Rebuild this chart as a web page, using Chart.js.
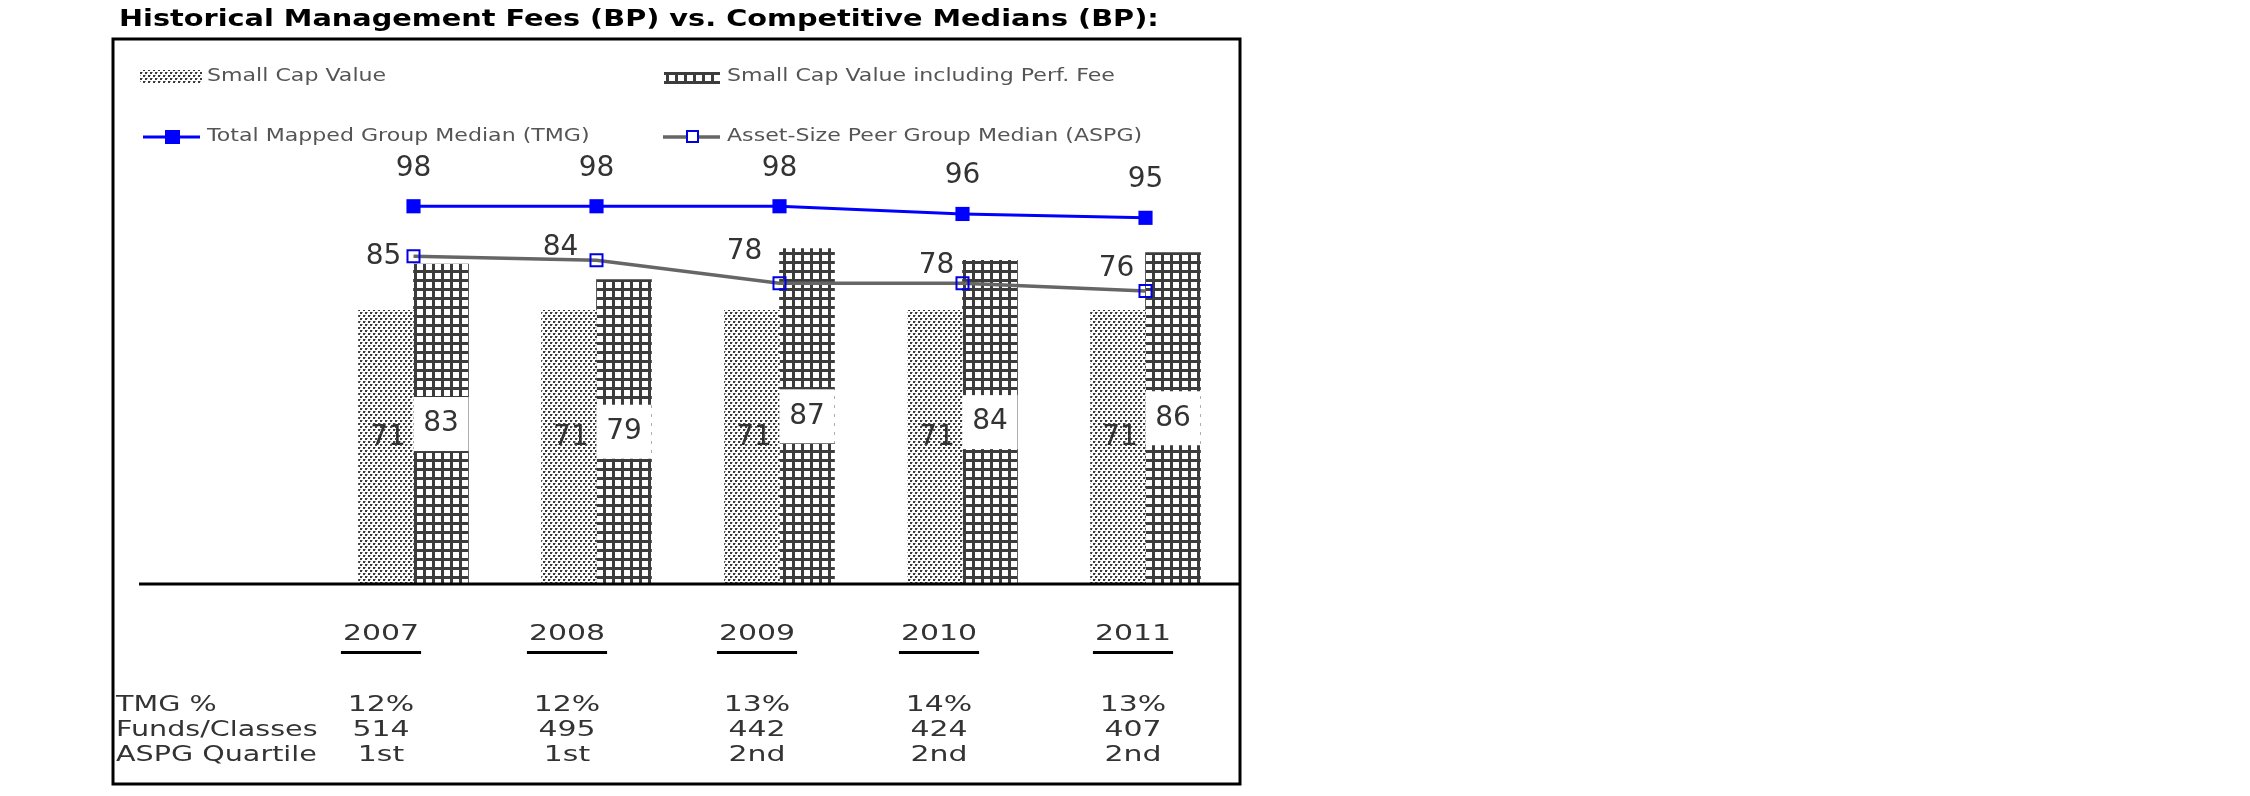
<!DOCTYPE html>
<html>
<head>
<meta charset="utf-8">
<script src="https://cdn.jsdelivr.net/npm/chart.js@4.4.1/dist/chart.umd.min.js"></script>
<style>
  html, body { margin: 0; padding: 0; background: #fff; }
  canvas { display: block; }
</style>
</head>
<body>
<canvas id="feesChart" width="2250" height="796"></canvas>
<script>
const title = "Historical Management Fees (BP) vs. Competitive Medians (BP):";
const years = [2007, 2008, 2009, 2010, 2011];
const smallCapValue = [71, 71, 71, 71, 71];
const smallCapPerfFee = [83, 79, 87, 84, 86];
const tmgMedian = [98, 98, 98, 96, 95];
const aspgMedian = [85, 84, 78, 78, 76];
const rowLabels = ["TMG %", "Funds/Classes", "ASPG Quartile"];
const tmgPct = ["12%", "12%", "13%", "14%", "13%"];
const fundsClasses = ["514", "495", "442", "424", "407"];
const aspgQuartile = ["1st", "1st", "2nd", "2nd", "2nd"];

// layout bits (pixels), not data
const aspgLabelShift = [[-30, 0], [-36, -12], [-35, -32], [-26, -18], [-29, -22]];
const tableCols = [381, 567, 757, 939, 1133];
const box = { left: 113, top: 39, right: 1240, bottom: 784 };
const FONT = '"DejaVu Sans", Verdana, sans-serif';

function makePattern(w, h, paint) {
  const c = document.createElement("canvas");
  c.width = w; c.height = h;
  const g = c.getContext("2d");
  g.fillStyle = "#fff";
  g.fillRect(0, 0, w, h);
  paint(g);
  return document.createElement("canvas").getContext("2d").createPattern(c, "repeat");
}

const dotted = makePattern(5, 6, (g) => {
  g.fillStyle = "#3a3a3a";
  g.fillRect(0, 0, 2, 2);
  g.fillRect(3, 3, 2, 2);
  g.fillStyle = "#a0a0a0";
  g.fillRect(2, 0, 1, 1);
  g.fillRect(0, 3, 1, 1);
});

const grid = makePattern(9, 9, (g) => {
  g.fillStyle = "#3c3c3c";
  g.fillRect(0, 0, 3, 9);
  g.fillRect(0, 0, 9, 3);
});

function say(ctx, str, x, y, size, opts = {}) {
  const sx = opts.sx || 1;
  ctx.save();
  ctx.font = `${opts.bold ? "bold " : ""}${size}px ${FONT}`;
  ctx.fillStyle = opts.color || "#333";
  ctx.textAlign = opts.align || "center";
  ctx.textBaseline = opts.baseline || "middle";
  ctx.translate(x, y);
  ctx.scale(sx, 1);
  ctx.fillText(str, 0, 0);
  const w = ctx.measureText(str).width * sx;
  ctx.restore();
  return w;
}

const labelsPlugin = {
  id: "valueLabels",
  afterDatasetsDraw(chart) {
    const ctx = chart.ctx;
    const [smallMeta, perfMeta, tmgMeta, aspgMeta] = [0, 1, 2, 3].map((i) => chart.getDatasetMeta(i));

    perfMeta.data.forEach((bar, i) => {
      const mid = (bar.y + bar.base) / 2;
      ctx.fillStyle = "#fff";
      ctx.fillRect(bar.x - bar.width / 2, mid - 27, bar.width, 54);
      say(ctx, String(smallCapPerfFee[i]), bar.x, mid, 28, { color: "#333" });
    });

    smallMeta.data.forEach((bar, i) => {
      const mid = (bar.y + bar.base) / 2;
      say(ctx, String(smallCapValue[i]), bar.x + 2, mid - 9, 28, { color: "#333" });
    });

    tmgMeta.data.forEach((pt, i) => {
      say(ctx, String(tmgMedian[i]), pt.x, pt.y - 38, 28, { color: "#333" });
    });

    aspgMeta.data.forEach((pt, i) => {
      const [dx, dy] = aspgLabelShift[i];
      say(ctx, String(aspgMedian[i]), pt.x + dx, pt.y + dy, 28, { color: "#333" });
    });
  }
};

const framePlugin = {
  id: "frame",
  afterDraw(chart) {
    const ctx = chart.ctx;
    const ds = chart.data.datasets;
    const zero = chart.scales.y.getPixelForValue(0);

    // title
    say(ctx, title, 119, 26, 23, { bold: true, color: "#000", align: "left", baseline: "alphabetic", sx: 1.25 });

    // box
    ctx.save();
    ctx.strokeStyle = "#000";
    ctx.lineWidth = 3;
    ctx.strokeRect(box.left, box.top, box.right - box.left, box.bottom - box.top);
    // category axis line
    ctx.beginPath();
    ctx.moveTo(chart.chartArea.left, zero);
    ctx.lineTo(box.right, zero);
    ctx.stroke();
    ctx.restore();

    // legend
    const legendText = { align: "left", color: "#555", sx: 1.3 };
    ctx.fillStyle = ds[0].backgroundColor;
    ctx.fillRect(140, 70, 62, 14);
    say(ctx, ds[0].label, 207, 77, 17, legendText);

    ctx.fillStyle = ds[1].backgroundColor;
    ctx.fillRect(664, 72, 56, 12);
    say(ctx, ds[1].label, 727, 77, 17, legendText);

    ctx.save();
    ctx.strokeStyle = ds[2].borderColor;
    ctx.lineWidth = ds[2].borderWidth;
    ctx.beginPath(); ctx.moveTo(143, 137); ctx.lineTo(200, 137); ctx.stroke();
    ctx.fillStyle = ds[2].pointBackgroundColor;
    ctx.fillRect(165, 130, 15, 14);
    ctx.restore();
    say(ctx, ds[2].label, 207, 137, 17, legendText);

    ctx.save();
    ctx.strokeStyle = ds[3].borderColor;
    ctx.lineWidth = ds[3].borderWidth;
    ctx.beginPath(); ctx.moveTo(663, 137); ctx.lineTo(720, 137); ctx.stroke();
    ctx.fillStyle = "#fff";
    ctx.strokeStyle = ds[3].pointBorderColor;
    ctx.lineWidth = 2;
    ctx.fillRect(687, 131, 11, 11);
    ctx.strokeRect(687, 131, 11, 11);
    ctx.restore();
    say(ctx, ds[3].label, 727, 137, 17, legendText);

    // data table under the chart
    const cell = { color: "#333", sx: 1.36 };
    years.forEach((yr, i) => {
      const w = say(ctx, String(yr), tableCols[i], 634, 22, cell);
      ctx.fillStyle = "#000";
      ctx.fillRect(tableCols[i] - w / 2 - 2, 651, w + 4, 3);
    });
    const rows = [tmgPct, fundsClasses, aspgQuartile];
    const rowY = [705, 730, 755];
    rowLabels.forEach((lab, r) => {
      say(ctx, lab, 116, rowY[r], 22, { ...cell, align: "left", sx: 1.3 });
      rows[r].forEach((v, i) => say(ctx, v, tableCols[i], rowY[r], 22, cell));
    });
  }
};

new Chart(document.getElementById("feesChart"), {
  data: {
    labels: years,
    datasets: [
      { type: "bar", label: "Small Cap Value", data: smallCapValue, backgroundColor: dotted, borderWidth: 0, order: 2 },
      { type: "bar", label: "Small Cap Value including Perf. Fee", data: smallCapPerfFee, backgroundColor: grid, borderWidth: 0, order: 2 },
      {
        type: "line", label: "Total Mapped Group Median (TMG)", data: tmgMedian,
        borderColor: "#0000ff", borderWidth: 3, pointStyle: "rect", pointRadius: 10,
        pointBackgroundColor: "#0000ff", pointBorderColor: "#0000ff", pointBorderWidth: 0, order: 0
      },
      {
        type: "line", label: "Asset-Size Peer Group Median (ASPG)", data: aspgMedian,
        borderColor: "#666666", borderWidth: 3.5, pointStyle: "rect", pointRadius: 8.5,
        pointBackgroundColor: "rgba(255,255,255,0)", pointBorderColor: "#0000e0", pointBorderWidth: 2, order: 1
      }
    ]
  },
  options: {
    responsive: false,
    animation: false,
    devicePixelRatio: 1,
    layout: { padding: { left: 139, right: 1013, top: 160, bottom: 212 } },
    datasets: { bar: { barThickness: 55 } },
    scales: {
      x: { type: "linear", min: 2005.5, max: 2011.5, offset: false, display: false },
      y: { min: 0, max: 110, display: false }
    },
    plugins: { legend: { display: false }, tooltip: { enabled: false } }
  },
  plugins: [labelsPlugin, framePlugin]
});
</script>
</body>
</html>
